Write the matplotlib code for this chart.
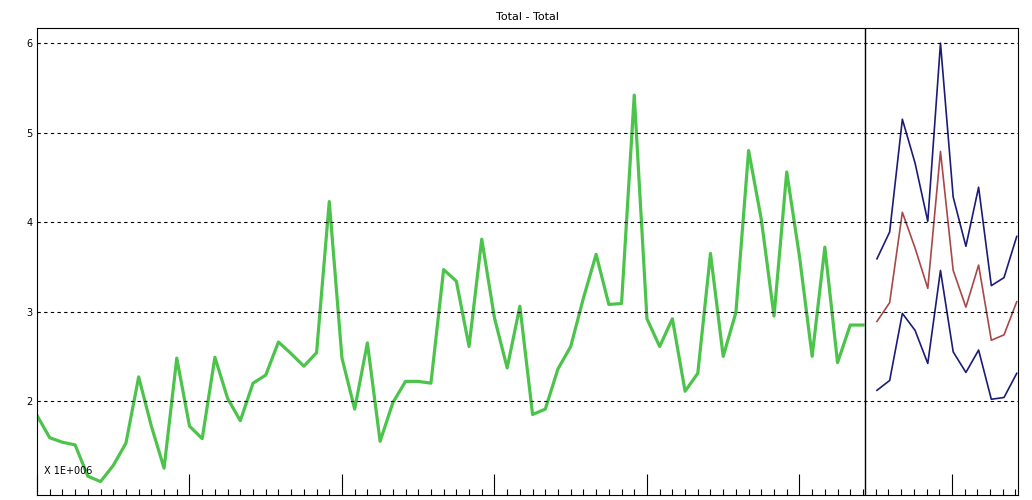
import matplotlib
matplotlib.use("Agg")
import matplotlib.pyplot as plt
import numpy as np

history = [1.84,1.59,1.54,1.51,1.16,1.10,1.28,1.53,2.27,1.72,1.25,2.48,1.72,1.58,2.49,2.03,1.78,2.20,2.29,2.66,
           2.53,2.39,2.54,4.23,2.48,1.91,2.65,1.55,1.98,2.22,2.22,2.20,3.47,3.34,2.61,3.81,2.93,2.37,3.06,1.85,
           1.91,2.36,2.61,3.15,3.64,3.08,3.09,5.42,2.92,2.61,2.92,2.11,2.31,3.65,2.50,2.99,4.80,4.03,2.95,4.56,
           3.62,2.50,3.72,2.43,2.85,2.85]
upper = [3.59,3.89,5.15,4.66,4.01,6.00,4.28,3.73,4.39,3.29,3.38,3.84]
forecast = [2.89,3.10,4.11,3.71,3.26,4.79,3.46,3.05,3.52,2.68,2.74,3.11]
lower = [2.12,2.23,2.98,2.79,2.42,3.46,2.55,2.32,2.57,2.02,2.04,2.31]
yticks = [2,3,4,5,6]

fig = plt.figure(figsize=(10.32,5.0), dpi=100)
ax = fig.add_axes([37/1032, 5/500, 981/1032, 467/500])
xh = np.arange(len(history))
xf = np.arange(len(history)+0.1, len(history)+len(forecast))[:len(forecast)]
ax.plot(xh, history, color="#4cc44c", lw=2.3)
ax.plot(xf, upper, color="#1c1c78", lw=1.2)
ax.plot(xf, lower, color="#1c1c78", lw=1.2)
ax.plot(xf, forecast, color="#a84848", lw=1.2)
ax.axvline(len(history)-0.85, color="black", lw=1)
ax.set_xlim(0, 77.2)
ax.set_ylim(0.95, 6.17)
ax.set_yticks(yticks)
ax.set_yticklabels([str(v) for v in yticks], fontsize=7)
ax.tick_params(axis="y", length=0, pad=3)
for v in yticks:
    ax.axhline(v, color="black", lw=0.8, ls=(0,(3,3)))
ax.set_xticks(np.arange(0, 78, 12))
ax.set_xticks(np.arange(0, 78, 1), minor=True)
ax.set_xticklabels([])
ax.tick_params(axis="x", which="major", direction="in", length=15, width=0.8)
ax.tick_params(axis="x", which="minor", direction="in", length=4.5, width=0.8)
ax.set_title("Total - Total", fontsize=8, pad=6)
ax.text(0.007, 0.045, "X 1E+006", transform=ax.transAxes, fontsize=7)
for s in ax.spines.values():
    s.set_linewidth(0.8)
fig.savefig("out.png", dpi=100)
